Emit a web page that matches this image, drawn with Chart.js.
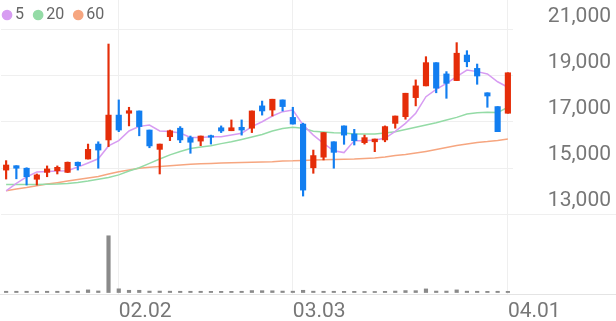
<!DOCTYPE html>
<html>
<head>
<meta charset="utf-8">
<script src="https://cdn.jsdelivr.net/npm/chart.js@4.4.1/dist/chart.umd.min.js"></script>
<style>
  html, body { margin: 0; padding: 0; background: #fff; }
  canvas { display: block; }
</style>
</head>
<body>
<canvas id="chart" width="616" height="321"></canvas>
<script>
// daily candles, oldest first
const opens  = [14910, 15100, 14990, 14510, 14810, 14880, 14810, 15250, 15390, 16040,
                16220, 17300, 17380, 17480, 16650, 15810, 16360, 16730, 16320, 16170,
                16400, 16750, 16620, 16770, 16730, 17700, 17520, 17960, 17200, 16910,
                15010, 15470, 16140, 16830, 16480, 16100, 16140, 16220, 16940, 17230,
                18060, 18570, 19580, 19090, 18800, 19910, 19330, 18270, 17670, 17380];
const closes = [15130, 14990, 14620, 14700, 14960, 15030, 15250, 15100, 15810, 15780,
                17300, 16650, 17490, 16800, 15960, 16040, 16620, 16220, 16120, 16390,
                16340, 16610, 16750, 16650, 17480, 17480, 17990, 17670, 16910, 14040,
                15540, 16540, 15680, 16430, 16190, 16320, 16260, 16800, 17260, 18250,
                18570, 19580, 18470, 18680, 19990, 19620, 19000, 18130, 16580, 19140];
const highs  = [15320, 15100, 15010, 14740, 15090, 15090, 15260, 15260, 16040, 16140,
                20390, 17960, 17640, 17480, 16650, 16040, 16650, 16800, 16390, 16390,
                16430, 16830, 17090, 17090, 17480, 17910, 17990, 17960, 17640, 16950,
                15780, 16540, 16140, 16830, 16680, 16430, 16260, 16830, 17260, 18250,
                18830, 19840, 19580, 19190, 20450, 20100, 19520, 18270, 17670, 19140];
const lows   = [14520, 14530, 14260, 14260, 14620, 14740, 14800, 14910, 15390, 14990,
                15930, 16580, 16830, 16400, 15880, 14740, 16190, 16100, 15640, 15970,
                16040, 16540, 16620, 16430, 16540, 17300, 17260, 17480, 16910, 13780,
                14770, 15350, 14990, 16030, 16000, 16040, 15710, 16140, 16730, 17120,
                17700, 18570, 18270, 18030, 18800, 19400, 18640, 17640, 16580, 17380];
const volumes = [130, 130, 130, 130, 130, 130, 130, 140, 270, 160,
                 5800, 380, 230, 230, 150, 150, 140, 130, 130, 130,
                 120, 120, 120, 130, 200, 190, 180, 150, 140, 230,
                 140, 130, 130, 120, 120, 110, 110, 120, 150, 200,
                 190, 370, 150, 150, 270, 140, 130, 120, 130, 120];

// moving averages as drawn
const ma5  = [14010, 14330, 14610, 14830, 14850, 14870, 14880, 15040, 15220, 15400,
              15960, 16190, 16610, 16810, 16870, 16610, 16590, 16520, 16330, 16330,
              16360, 16360, 16430, 16510, 16800, 17010, 17260, 17450, 17520, 16870,
              16430, 16070, 15750, 15670, 16190, 16190, 16220, 16290, 16590, 16940,
              17380, 18100, 18420, 18680, 18970, 19260, 19190, 19090, 18750, 18510];
const ma20 = [14280, 14280, 14280, 14280, 14290, 14300, 14330, 14370, 14430, 14510,
              14590, 14700, 14870, 15010, 15200, 15390, 15570, 15720, 15850, 15910,
              15970, 16060, 16140, 16240, 16350, 16460, 16610, 16720, 16770, 16730,
              16600, 16570, 16530, 16520, 16480, 16480, 16480, 16520, 16580, 16670,
              16770, 16870, 16970, 17090, 17200, 17350, 17400, 17420, 17410, 17640];
const ma60 = [14010, 14090, 14150, 14230, 14300, 14360, 14430, 14500, 14570, 14630,
              14740, 14840, 14910, 14990, 15030, 15070, 15100, 15130, 15160, 15180,
              15200, 15220, 15230, 15240, 15250, 15260, 15270, 15300, 15310, 15330,
              15350, 15360, 15370, 15380, 15390, 15410, 15430, 15480, 15540, 15590,
              15650, 15720, 15800, 15890, 15980, 16040, 16110, 16150, 16200, 16260];

const maNames = ['5', '20', '60'];
const dateTicks = ['02.02', '03.03', '04.01'];
const dateTickIndex = [11, 28, 49];
const yTicks = [13000, 15000, 17000, 19000, 21000];

const UP = '#e52d09';
const DOWN = '#127ef0';
const GRID = '#efefef';
const TEXT = '#777';

Chart.defaults.font.family = 'Roboto';

var xLabels = opens.map(() => '');
dateTickIndex.forEach((idx, k) => { xLabels[idx] = dateTicks[k]; });

var candleColors = opens.map((o, i) => closes[i] >= o ? UP : DOWN);

// legend sits on top of the plot, not above it
const legendOverlay = {
    id: 'legendOverlay',
    beforeUpdate(chart) {
        const legend = chart.legend;
        if (legend && !legend.overlayFit) {
            const fit = legend.fit;
            legend.fit = function () { fit.call(this); this.height = 0; };
            legend.overlayFit = true;
        }
    },
    afterLayout(chart) {
        // legend clips to its own box, so give it room again
        const legend = chart.legend;
        legend.left = -7;
        legend.top = -7;
        legend.bottom = 40;
        legend.height = legend.bottom - legend.top;
    }
};

// full width separator lines under the price and volume panels
const panelLines = {
    id: 'panelLines',
    beforeDatasetsDraw(chart) {
        const { ctx, chartArea, scales } = chart;
        ctx.save();
        ctx.lineWidth = 1;
        ctx.strokeStyle = GRID;
        let y = Math.round(scales.y.getPixelForValue(yTicks[0])) + 0.5;
        ctx.beginPath(); ctx.moveTo(chartArea.right, y); ctx.lineTo(chart.width, y); ctx.stroke();
        ctx.strokeStyle = '#e4e4e4';
        y = Math.round(chartArea.bottom) + 0.5;
        ctx.beginPath(); ctx.moveTo(0, y); ctx.lineTo(chart.width, y); ctx.stroke();
        ctx.restore();
    }
};

const maColors = ['#d79cf2', '#94dba6', '#f6a680'];
const maData = [ma5, ma20, ma60];

var datasets = maNames.map((name, k) => ({
    type: 'line',
    label: name,
    data: maData[k],
    borderColor: maColors[k],
    backgroundColor: maColors[k],
    borderWidth: 1.5,
    pointRadius: 0,
    pointStyle: 'circle',
    order: 2,
}));

datasets.push({
    type: 'bar',
    label: 'wick',
    data: lows.map((l, i) => [l, highs[i]]),
    backgroundColor: candleColors,
    barThickness: 1.5,
    grouped: false,
    order: 1,
});
datasets.push({
    type: 'bar',
    label: 'body',
    data: opens.map((o, i) => [o, closes[i]]),
    backgroundColor: candleColors,
    barThickness: 5.5,
    minBarLength: 1.5,
    grouped: false,
    order: 0,
});
datasets.push({
    type: 'bar',
    label: 'volume',
    data: volumes,
    yAxisID: 'yv',
    backgroundColor: '#8a8a8a',
    barThickness: 3.5,
    grouped: false,
    order: 3,
});

const chart = new Chart(document.getElementById('chart'), {
    type: 'bar',
    data: { labels: xLabels, datasets: datasets },
    options: {
        responsive: false,
        animation: false,
        devicePixelRatio: 1,
        layout: { padding: { left: 1, right: 5, top: 0, bottom: 0 } },
        plugins: {
            tooltip: { enabled: false },
            legend: {
                position: 'top',
                align: 'start',
                labels: {
                    usePointStyle: true,
                    boxWidth: 0.1,
                    boxHeight: 6.5,
                    padding: 14,
                    color: '#666',
                    font: { family: 'Roboto', size: 16 },
                    filter: item => maNames.includes(item.text),
                },
            },
        },
        scales: {
            x: {
                type: 'category',
                offset: true,
                grid: {
                    offset: false,
                    drawTicks: false,
                    color: ctx => xLabels[ctx.index] ? GRID : 'rgba(0,0,0,0)',
                },
                border: { display: false },
                ticks: {
                    autoSkip: false,
                    maxRotation: 0,
                    minRotation: 0,
                    align: 'start',
                    padding: 5,
                    color: TEXT,
                    font: { size: 21 },
                },
                afterFit(scale) {
                    scale.paddingLeft = 0;
                    scale.paddingRight = 0;
                    scale.height = 27;
                },
            },
            y: {
                position: 'right',
                min: 9522,
                max: 22304,
                afterBuildTicks(scale) { scale.ticks = yTicks.map(v => ({ value: v })); },
                afterFit(scale) {
                    scale.paddingTop = 0;
                    scale.paddingBottom = 0;
                    scale.width = 98;
                },
                grid: { color: GRID, drawTicks: false },
                border: { display: false },
                ticks: {
                    crossAlign: 'far',
                    padding: 35,
                    labelOffset: -13,
                    color: TEXT,
                    font: { size: 21 },
                    callback: v => v.toLocaleString('en-US'),
                },
            },
            yv: {
                position: 'right',
                display: false,
                min: -150,
                max: 29900,
            },
        },
    },
    plugins: [legendOverlay, panelLines],
});
</script>
</body>
</html>
